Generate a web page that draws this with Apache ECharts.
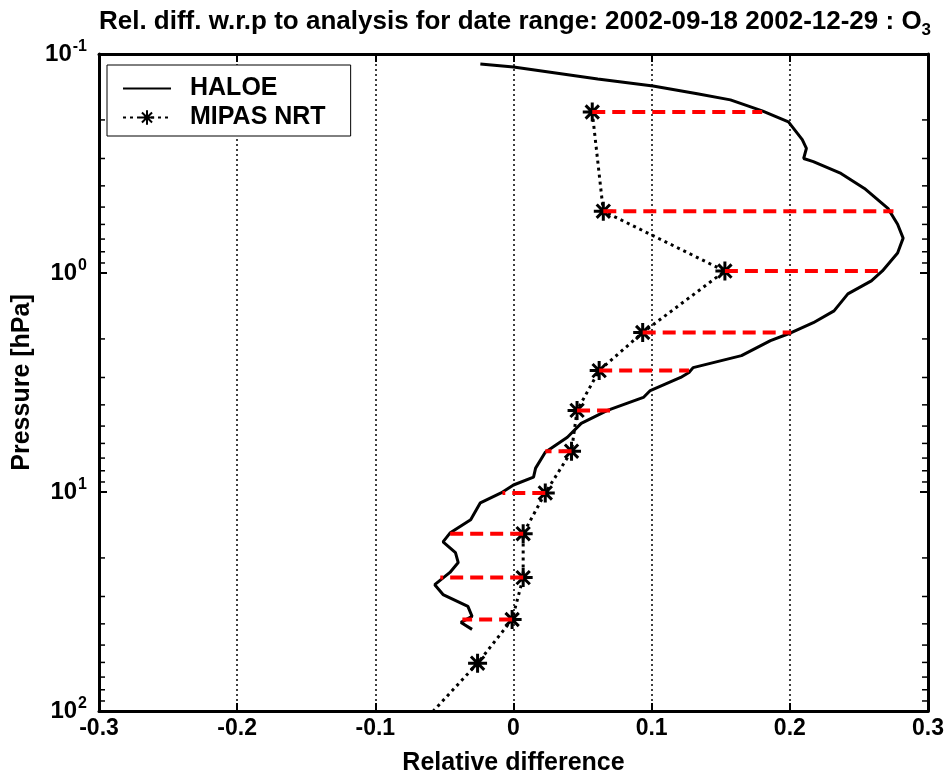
<!DOCTYPE html>
<html>
<head>
<meta charset="utf-8">
<script src="https://cdn.jsdelivr.net/npm/echarts@6/dist/echarts.min.js"></script>
<style>
  html, body { margin: 0; padding: 0; background: #fff; }
  #chart { width: 950px; height: 773px; }
</style>
</head>
<body>
<div id="chart"></div>
<script>
// HALOE profile: pressure [hPa] and relative difference
const haloeP = [0.111, 0.1146, 0.130, 0.140, 0.152, 0.162, 0.182, 0.204, 0.246, 0.270, 0.300, 0.310,
  0.351, 0.411, 0.507, 0.599, 0.693, 0.811, 0.979, 1.087, 1.246, 1.489, 1.687, 1.874, 2.037, 2.384,
  2.704, 2.848, 3.0, 3.44, 3.70, 4.24, 4.86, 5.62, 6.58, 7.78, 8.55, 9.29, 10.1, 11.2, 13.4, 15.4,
  16.9, 18.9, 21.0, 23.3, 26.5, 29.4, 33.3, 37.0, 39.4, 42.4];
const haloeV = [-0.024, 0.0, 0.061, 0.101, 0.133, 0.157, 0.180, 0.199, 0.209, 0.212, 0.210, 0.217,
  0.237, 0.254, 0.271, 0.278, 0.282, 0.278, 0.267, 0.259, 0.242, 0.232, 0.217, 0.201, 0.186, 0.165,
  0.130, 0.127, 0.121, 0.099, 0.094, 0.068, 0.049, 0.039, 0.023, 0.016, 0.0145, 0.0, -0.009, -0.024,
  -0.031, -0.046, -0.051, -0.042, -0.040, -0.046, -0.057, -0.051, -0.033, -0.030, -0.038, -0.030];

// MIPAS NRT points (last one lies at the plot bottom, no marker)
const mipasP = [0.184, 0.522, 0.98, 1.87, 2.79, 4.24, 6.51, 10.1, 15.5, 24.6, 38.2, 60.5, 100];
const mipasV = [0.057, 0.065, 0.153, 0.0935, 0.062, 0.046, 0.042, 0.023, 0.007, 0.007, -0.001, -0.026, -0.058];
// HALOE value at each MIPAS level (end of the red dashed lines)
const haloeAtMipas = [0.180, 0.275, 0.267, 0.201, 0.127, 0.070, 0.023, -0.008, -0.046, -0.053, -0.037];

const minorP = [0.2, 0.3, 0.4, 0.5, 0.6, 0.7, 0.8, 0.9, 2, 3, 4, 5, 6, 7, 8, 9, 20, 30, 40, 50, 60, 70, 80, 90];

const FONT = 'Liberation Sans, Arial, sans-serif';
const starPath = 'path://M10,0L10,20M0,10L20,10M3,3L17,17M3,17L17,3';

const chart = echarts.init(document.getElementById('chart'));

const series = [
  {
    name: 'HALOE',
    type: 'line',
    data: haloeP.map((p, i) => [haloeV[i], p]),
    showSymbol: false,
    symbol: 'none',
    lineStyle: { color: '#000', width: 3 },
    itemStyle: { color: '#000' },
    animation: false,
    z: 3
  },
  {
    name: 'MIPAS NRT',
    type: 'line',
    data: mipasP.map((p, i) => {
      const item = { value: [mipasV[i], p] };
      if (p >= 100) item.symbol = 'none';
      return item;
    }),
    symbol: starPath,
    symbolSize: 19,
    lineStyle: { color: '#000', width: 3, type: [3, 4] },
    itemStyle: { color: '#000', borderColor: '#000', borderWidth: 3 },
    animation: false,
    z: 4
  },
  {
    // minor log ticks on left and right frame
    type: 'custom',
    silent: true,
    data: minorP,
    renderItem: function (params, api) {
      const p = api.value(0);
      const l = api.coord([-0.3, p]);
      const r = api.coord([0.3, p]);
      return {
        type: 'group',
        children: [
          { type: 'line', shape: { x1: l[0], y1: l[1], x2: l[0] + 6, y2: l[1] }, style: { stroke: '#000', lineWidth: 1.5 } },
          { type: 'line', shape: { x1: r[0], y1: r[1], x2: r[0] - 6, y2: r[1] }, style: { stroke: '#000', lineWidth: 1.5 } }
        ]
      };
    },
    encode: { y: 0 },
    animation: false,
    z: 5
  }
];

haloeAtMipas.forEach((h, i) => {
  series.push({
    type: 'line',
    data: [[mipasV[i], mipasP[i]], [h, mipasP[i]]],
    symbol: 'none',
    lineStyle: { color: '#ff0000', width: 4, type: [13, 7] },
    animation: false,
    z: 6
  });
});

const option = {
  backgroundColor: '#fff',
  title: {
    text: 'Rel. diff. w.r.p to analysis for date range: 2002-09-18 2002-12-29 : O{sub|3}',
    left: 510,
    textAlign: 'center',
    top: -1,
    textStyle: {
      fontFamily: FONT, fontSize: 26, fontWeight: 'bold', color: '#000',
      rich: { sub: { fontFamily: FONT, fontSize: 17, fontWeight: 'bold', color: '#000', padding: [18, 0, 0, 0] } }
    }
  },
  legend: {
    data: [{ name: 'HALOE', itemStyle: { opacity: 0 } }, { name: 'MIPAS NRT' }],
    orient: 'vertical',
    left: 107,
    top: 65,
    padding: [9, 25, 4, 15],
    itemWidth: 48,
    itemHeight: 18,
    itemGap: 0,
    backgroundColor: '#fff',
    borderColor: '#000',
    borderWidth: 1,
    borderRadius: 0,
    textStyle: { fontFamily: FONT, fontSize: 25, lineHeight: 29, fontWeight: 'bold', color: '#000', padding: [0, 0, 0, 14] }
  },
  grid: { left: 99, right: 22, top: 54, bottom: 62, containLabel: false, outerBoundsMode: 'none' },
  xAxis: [
    {
      type: 'value', min: -0.3, max: 0.3, interval: 0.1,
      position: 'bottom',
      name: 'Relative difference', nameLocation: 'middle', nameGap: 40,
      nameTextStyle: { fontFamily: FONT, fontSize: 25, fontWeight: 'bold', color: '#000' },
      axisLine: { show: true, onZero: false, lineStyle: { color: '#000', width: 3 } },
      axisTick: { show: true, inside: true, length: 8, lineStyle: { color: '#000', width: 2 } },
      axisLabel: {
        fontFamily: FONT, fontSize: 23, fontWeight: 'bold', color: '#000', margin: 6,
        formatter: v => String(Math.round(v * 10) / 10)
      },
      splitLine: { show: true, lineStyle: { color: '#000', width: 1.5, type: [2, 3] } }
    },
    {
      type: 'value', min: -0.3, max: 0.3, interval: 0.1,
      position: 'top',
      axisLine: { show: true, onZero: false, lineStyle: { color: '#000', width: 3 } },
      axisTick: { show: true, inside: true, length: 8, lineStyle: { color: '#000', width: 2 } },
      axisLabel: { show: false },
      splitLine: { show: false }
    }
  ],
  yAxis: [
    {
      type: 'log', logBase: 10, min: 0.1, max: 100, inverse: true,
      position: 'left',
      name: 'Pressure [hPa]', nameLocation: 'middle', nameGap: 60, nameRotate: 90,
      nameTextStyle: { fontFamily: FONT, fontSize: 25, fontWeight: 'bold', color: '#000' },
      axisLine: { show: true, onZero: false, lineStyle: { color: '#000', width: 3 } },
      axisTick: { show: true, inside: true, length: 8, lineStyle: { color: '#000', width: 2 } },
      axisLabel: {
        margin: 12,
        formatter: v => '{b|10}{s|' + Math.round(Math.log10(v)) + '}',
        rich: {
          b: { fontFamily: FONT, fontSize: 24, fontWeight: 'bold', color: '#000' },
          s: { fontFamily: FONT, fontSize: 16, fontWeight: 'bold', color: '#000', padding: [0, 0, 14, 1] }
        }
      },
      splitLine: { show: false }
    },
    {
      type: 'log', logBase: 10, min: 0.1, max: 100, inverse: true,
      position: 'right',
      axisLine: { show: true, onZero: false, lineStyle: { color: '#000', width: 3 } },
      axisTick: { show: true, inside: true, length: 8, lineStyle: { color: '#000', width: 2 } },
      axisLabel: { show: false },
      splitLine: { show: false }
    }
  ],
  series: series
};

chart.setOption(option);
</script>
</body>
</html>
